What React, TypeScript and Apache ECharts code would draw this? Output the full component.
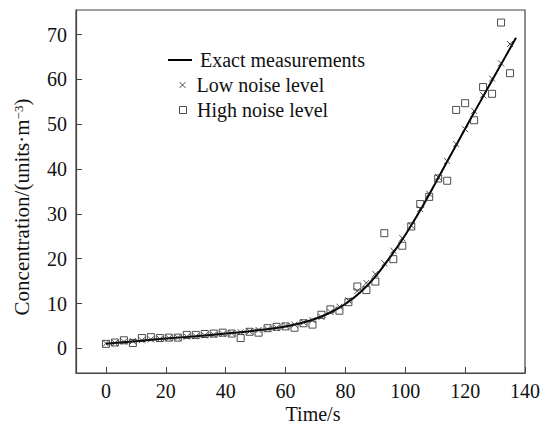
import React, { useEffect, useRef } from "react";
import * as echarts from "echarts";

const sampleTimes = [0, 3, 6, 9, 12, 15, 18, 21, 24, 27, 30, 33, 36, 39, 42, 45, 48, 51, 54, 57, 60, 63, 66, 69, 72, 75, 78, 81, 84, 87, 90, 93, 96, 99, 102, 105, 108, 111, 114, 117, 120, 123, 126, 129, 132, 135];
const highNoise = [1.0, 1.3, 1.8, 1.2, 2.3, 2.5, 2.3, 2.4, 2.4, 3.0, 3.0, 3.2, 3.3, 3.5, 3.3, 2.3, 3.7, 3.5, 4.5, 4.8, 4.9, 4.6, 5.6, 5.3, 7.5, 8.7, 8.4, 10.3, 13.8, 13.0, 14.9, 25.7, 19.9, 22.9, 27.2, 32.2, 33.8, 37.9, 37.4, 53.2, 54.7, 50.9, 58.3, 56.8, 72.7, 61.4];
const lowNoise = [1.1, 1.2, 1.5, 1.6, 1.8, 2.0, 2.1, 2.3, 2.4, 2.6, 2.7, 2.9, 3.0, 3.2, 3.4, 3.6, 3.8, 4.1, 4.3, 4.6, 5.0, 5.3, 5.8, 6.3, 7.0, 8.1, 9.3, 10.7, 12.8, 14.6, 16.6, 19.0, 21.8, 24.6, 27.4, 31.1, 34.5, 38.2, 41.8, 45.6, 48.9, 53.0, 56.5, 60.2, 63.6, 67.9];
const exactTimes = [0, 10, 20, 30, 40, 50, 60, 65, 70, 75, 80, 85, 90, 95, 100, 105, 110, 115, 120, 125, 130, 137];
const exactValues = [1.0, 1.6, 2.2, 2.7, 3.3, 4.0, 4.9, 5.6, 6.6, 8.0, 9.9, 12.5, 16.0, 20.4, 25.3, 30.8, 36.8, 42.9, 49.0, 55.0, 61.0, 69.3];
const xTicks = [0, 20, 40, 60, 80, 100, 120, 140];
const yTicks = [0, 10, 20, 30, 40, 50, 60, 70];

const FONT = "'Liberation Serif', 'Times New Roman', serif";
const SQUARE = "path://M0,0H10V10H0Z";
const CROSS = "path://M0,0L10,10M10,0L0,10";
const DASH = "path://M0,0H24V2H0Z";

export default function App() {
  const ref = useRef<HTMLDivElement>(null);
  useEffect(() => {
    if (!ref.current) return;
    document.body.style.margin = "0";
    const chart = echarts.init(ref.current, undefined, { renderer: "svg" });
    const legendText = { fontFamily: FONT, fontSize: 20, color: "#111" };
    chart.setOption({
      animation: false,
      backgroundColor: "#fff",
      grid: { left: 76, right: 25, top: 10, bottom: 51, show: true, borderColor: "#444", borderWidth: 1.2, backgroundColor: "transparent" },
      xAxis: {
        type: "value", min: -10, max: 140,
        axisLine: { show: true, onZero: false, lineStyle: { color: "#444", width: 1.2 } },
        axisTick: { show: true, inside: true, length: 6, customValues: xTicks, lineStyle: { color: "#444" } },
        axisLabel: { customValues: xTicks, fontFamily: FONT, fontSize: 20, color: "#111", margin: 8 },
        splitLine: { show: false },
      },
      yAxis: {
        type: "value", min: -5.5, max: 75.5,
        axisLine: { show: true, onZero: false, lineStyle: { color: "#444", width: 1.2 } },
        axisTick: { show: true, inside: true, length: 6, customValues: yTicks, lineStyle: { color: "#444" } },
        axisLabel: { customValues: yTicks, fontFamily: FONT, fontSize: 20, color: "#111", margin: 9 },
        splitLine: { show: false },
      },
      legend: [
        {
          data: [{ name: "Exact measurements", icon: DASH }], left: 163, top: 45, itemWidth: 24, itemHeight: 2,
          itemStyle: { color: "#000" },
          textStyle: { ...legendText, padding: [0, 0, 0, 3] },
        },
        {
          data: ["Low noise level"], left: 174, top: 70, itemWidth: 18, itemHeight: 6,
          itemStyle: { color: "transparent", borderColor: "#222", borderWidth: 1 },
          textStyle: legendText,
        },
        {
          data: ["High noise level"], left: 174, top: 95, itemWidth: 18, itemHeight: 7,
          itemStyle: { color: "transparent", borderColor: "#222", borderWidth: 1 },
          textStyle: legendText,
        },
      ],
      series: [
        {
          name: "Exact measurements", type: "line", smooth: 0.3, symbol: "none",
          data: exactTimes.map((t, i) => [t, exactValues[i]]),
          lineStyle: { color: "#000", width: 2 }, itemStyle: { color: "#000" }, z: 3,
        },
        {
          name: "Low noise level", type: "scatter", symbol: CROSS, symbolSize: 6, symbolKeepAspect: true,
          data: sampleTimes.map((t, i) => [t, lowNoise[i]]),
          itemStyle: { color: "transparent", borderColor: "#222", borderWidth: 1 }, z: 4,
        },
        {
          name: "High noise level", type: "scatter", symbol: SQUARE, symbolSize: 7, symbolKeepAspect: true,
          data: sampleTimes.map((t, i) => [t, highNoise[i]]),
          itemStyle: { color: "transparent", borderColor: "#222", borderWidth: 1 }, z: 5,
        },
      ],
      graphic: [
        {
          type: "text", x: 313, y: 414,
          style: { text: "Time/s", font: `20px ${FONT}`, fill: "#111", align: "center", verticalAlign: "middle" },
        },
        {
          type: "text", x: 22, y: 207, rotation: Math.PI / 2,
          style: {
            text: "Concentration/(units·m{sup|−3})",
            font: `21px ${FONT}`, fill: "#111", align: "center", verticalAlign: "middle",
            rich: { sup: { fontSize: 13, fontFamily: FONT, verticalAlign: "top", fill: "#111", lineHeight: 13 } },
          },
        },
      ],
    });
    return () => chart.dispose();
  }, []);
  return <div ref={ref} style={{ width: 550, height: 424 }} />;
}
